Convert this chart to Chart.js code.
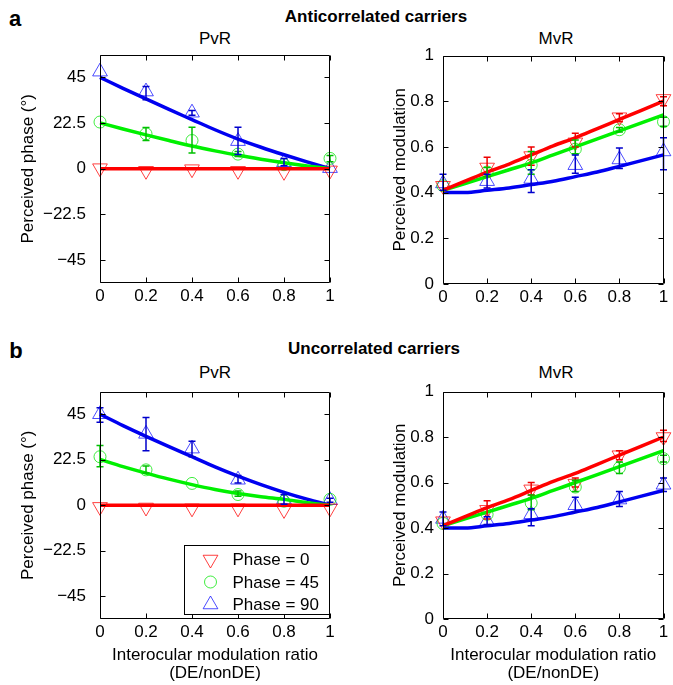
<!DOCTYPE html>
<html>
<head>
<meta charset="utf-8">
<script src="https://cdn.jsdelivr.net/npm/chart.js@4.4.0/dist/chart.umd.min.js"></script>
<style>
    body { margin: 0; background: #fff; }
    #fig { position: relative; width: 673px; height: 685px; overflow: hidden; font-family: 'Liberation Sans', Arial, Helvetica, sans-serif; }
    .panel { position: absolute; }
    .lbl { position: absolute; font-size: 17px; line-height: 1; color: #000; white-space: nowrap; transform: translate(-50%, -50%); }
    .bold { font-weight: bold; }
</style>
</head>
<body>
<div id="fig">
    <div class="lbl bold" style="left:15px;top:19px;font-size:22px">a</div>
    <div class="lbl bold" style="left:376px;top:16px">Anticorrelated carriers</div>
    <div class="lbl" style="left:215px;top:38px">PvR</div>
    <div class="lbl" style="left:556px;top:38px">MvR</div>

    <div class="lbl bold" style="left:16px;top:351px;font-size:22px">b</div>
    <div class="lbl bold" style="left:374px;top:348px">Uncorrelated carriers</div>
    <div class="lbl" style="left:215px;top:372px">PvR</div>
    <div class="lbl" style="left:556px;top:372px">MvR</div>

    <div class="panel" style="left:0;top:45px"><canvas id="aPvr" width="340" height="268"></canvas></div>
    <div class="panel" style="left:340px;top:46px"><canvas id="aMvr" width="333" height="268"></canvas></div>
    <div class="panel" style="left:0;top:382px"><canvas id="bPvr" width="340" height="303"></canvas></div>
    <div class="panel" style="left:340px;top:382px"><canvas id="bMvr" width="333" height="303"></canvas></div>
</div>
<script>
// x values of the measured points and of the fitted curves
const ratio = [0, 0.2, 0.4, 0.6, 0.8, 1]
const fitRatio = [0, 0.1, 0.2, 0.3, 0.4, 0.5, 0.6, 0.7, 0.8, 0.9, 1]

// tick labels
const ratioTicks = [0, 0.2, 0.4, 0.6, 0.8, 1]
const phaseTicks = [-45, -22.5, 0, 22.5, 45]
const modTicks = [0, 0.2, 0.4, 0.6, 0.8, 1]
const seriesNames = ['Phase = 0', 'Phase = 45', 'Phase = 90']

// a: anticorrelated carriers, perceived phase (PvR)
const aPvr0 = [0.3, -1, -0.2, -1, -1.5, -0.8]
const aPvr45 = [23, 17.2, 13.9, 7.2, 2, 5.1]
const aPvr90 = [47.8, 38, 27.6, 13.6, 3.2, 0.3]
const aPvr0Err = [null, null, null, null, null, null]
const aPvr45Err = [null, [13.9, 20.3], [7.7, 20.4], [6, 8.5], null, [3.5, 6.5]]
const aPvr90Err = [null, [34, 40.5], [26.3, 28.7], [7, 20.4], [1.5, 5], null]
const aPvr0Fit = [0, 0, 0, 0, 0, 0, 0, 0, 0, 0, 0]
const aPvr45Fit = [22.6, 19.6, 16.7, 13.9, 11.2, 8.8, 6.6, 4.7, 3.0, 1.4, 0]
const aPvr90Fit = [45, 39.6, 34.4, 29.2, 24.2, 19.2, 14.6, 10.6, 6.9, 3.4, 0]

// a: anticorrelated carriers, perceived modulation (MvR)
const aMvr0 = [0.43, 0.51, 0.56, 0.62, 0.73, 0.81]
const aMvr45 = [0.43, 0.49, 0.52, 0.59, 0.675, 0.71]
const aMvr90 = [0.44, 0.45, 0.46, 0.52, 0.545, 0.58]
const aMvr0Err = [null, [0.47, 0.555], [0.52, 0.6], [0.6, 0.66], [0.71, 0.745], [0.78, 0.82]]
const aMvr45Err = [null, [0.47, 0.51], [0.48, 0.58], [0.57, 0.63], [0.665, 0.685], [0.69, 0.73]]
const aMvr90Err = [[0.41, 0.48], [0.42, 0.48], [0.4, 0.5], [0.485, 0.565], [0.505, 0.595], [0.5, 0.64]]
const aMvr0Fit = [0.41, 0.45, 0.49, 0.525, 0.565, 0.605, 0.64, 0.68, 0.72, 0.76, 0.8]
const aMvr45Fit = [0.41, 0.44, 0.47, 0.5, 0.53, 0.565, 0.6, 0.635, 0.67, 0.705, 0.74]
const aMvr90Fit = [0.4, 0.4, 0.41, 0.42, 0.435, 0.45, 0.47, 0.49, 0.515, 0.54, 0.565]

// b: uncorrelated carriers, perceived phase (PvR)
const bPvr0 = [-0.8, -1.1, -1.5, -1.5, -2.3, -1.5]
const bPvr45 = [24, 17.5, 10.8, 5.3, 2, 2.9]
const bPvr90 = [45, 35.3, 28, 12.6, 2.9, 2.5]
const bPvr0Err = [null, null, null, null, null, null]
const bPvr45Err = [[19.1, 29.6], [15.9, 19.4], null, [4.5, 7], null, null]
const bPvr90Err = [[41, 48.2], [26.9, 43.4], [24, 31.7], [11, 14.7], [0.5, 5.3], [1.5, 3.5]]
const bPvr0Fit = [0, 0, 0, 0, 0, 0, 0, 0, 0, 0, 0]
const bPvr45Fit = [22.7, 19.1, 15.9, 12.9, 10.2, 7.8, 5.8, 4.2, 2.9, 1.3, 0]
const bPvr90Fit = [45, 39.4, 34.1, 29.0, 24.0, 19.0, 14.4, 10.2, 6.4, 3.0, 0]

// b: uncorrelated carriers, perceived modulation (MvR)
const bMvr0 = [0.43, 0.48, 0.57, 0.595, 0.72, 0.8]
const bMvr45 = [0.42, 0.46, 0.51, 0.58, 0.665, 0.705]
const bMvr90 = [0.44, 0.43, 0.46, 0.5, 0.525, 0.59]
const bMvr0Err = [null, [0.44, 0.52], [0.545, 0.6], [0.58, 0.62], [0.7, 0.74], [0.78, 0.83]]
const bMvr45Err = [null, null, [0.48, 0.545], [0.56, 0.61], [0.64, 0.69], [0.69, 0.72]]
const bMvr90Err = [[0.41, 0.47], [0.415, 0.45], [0.41, 0.485], [0.47, 0.535], [0.495, 0.56], [0.56, 0.62]]
const bMvr0Fit = [0.41, 0.45, 0.49, 0.525, 0.565, 0.605, 0.64, 0.68, 0.72, 0.76, 0.8]
const bMvr45Fit = [0.41, 0.44, 0.47, 0.5, 0.53, 0.565, 0.6, 0.635, 0.67, 0.705, 0.74]
const bMvr90Fit = [0.4, 0.4, 0.41, 0.42, 0.435, 0.45, 0.47, 0.49, 0.515, 0.54, 0.565]

const FONT = "'Liberation Sans', Arial, Helvetica, sans-serif"
Chart.defaults.font.family = FONT
Chart.defaults.font.size = 17
Chart.defaults.color = '#000'

// line, marker and error bar colours for phase 0 / 45 / 90
const lineColors = ['#ff0000', '#00f000', '#0000f0']
const markColors = ['rgba(255,0,0,0.75)', 'rgba(0,230,0,0.75)', 'rgba(0,0,255,0.7)']
const errColors = ['#ee0000', '#00c000', '#0000cc']
const markStyles = [
    { style: 'triangle', rot: 180, r: 8.5 },
    { style: 'circle', rot: 0, r: 6 },
    { style: 'triangle', rot: 0, r: 8.5 }
]

function drawMarker(ctx, m, x, y) {
    ctx.beginPath()
    if (m.style == 'circle') {
        ctx.arc(x, y, m.r, 0, Math.PI * 2)
    } else {
        var rad = m.rot * Math.PI / 180
        ctx.moveTo(x + Math.sin(rad) * m.r, y - Math.cos(rad) * m.r)
        for (var k = 0; k < 2; k++) {
            rad += Math.PI * 2 / 3
            ctx.lineTo(x + Math.sin(rad) * m.r, y - Math.cos(rad) * m.r)
        }
        ctx.closePath()
    }
    ctx.stroke()
}

// box with inward ticks on all four sides
const frame = {
    id: 'frame',
    afterDraw(chart) {
        const { ctx, chartArea: a, scales } = chart
        const L = Math.round(a.left) + 0.5, R = Math.round(a.right) - 0.5
        const T = Math.round(a.top) + 0.5, B = Math.round(a.bottom) - 0.5
        ctx.save()
        ctx.strokeStyle = '#000'
        ctx.lineWidth = 1
        ctx.beginPath()
        ctx.rect(L, T, R - L, B - T)
        scales.x.ticks.forEach(t => {
            const px = Math.round(scales.x.getPixelForValue(t.value)) + 0.5
            ctx.moveTo(px, B); ctx.lineTo(px, B - 5)
            ctx.moveTo(px, T); ctx.lineTo(px, T + 5)
        })
        scales.y.ticks.forEach(t => {
            const py = Math.round(scales.y.getPixelForValue(t.value)) + 0.5
            ctx.moveTo(L, py); ctx.lineTo(L + 5, py)
            ctx.moveTo(R, py); ctx.lineTo(R - 5, py)
        })
        ctx.stroke()
        ctx.restore()
    }
}

const errorBars = {
    id: 'errorBars',
    afterDatasetsDraw(chart) {
        const { ctx, scales: { x, y } } = chart
        chart.data.datasets.forEach(ds => {
            if (!ds.errBars) return
            ctx.save()
            ctx.strokeStyle = ds.errColor
            ctx.lineWidth = 1.5
            ctx.beginPath()
            ds.errBars.forEach((e, i) => {
                if (!e) return
                const px = x.getPixelForValue(ratio[i])
                const lo = y.getPixelForValue(e[0]), hi = y.getPixelForValue(e[1])
                ctx.moveTo(px, lo); ctx.lineTo(px, hi)
                ctx.moveTo(px - 3.5, lo); ctx.lineTo(px + 3.5, lo)
                ctx.moveTo(px - 3.5, hi); ctx.lineTo(px + 3.5, hi)
            })
            ctx.stroke()
            ctx.restore()
        })
    }
}

const phaseLegend = {
    id: 'phaseLegend',
    afterDraw(chart) {
        const { ctx, chartArea: a } = chart
        const left = Math.round(a.left) + 84.5, top = Math.round(a.top) + 153.5
        const right = Math.round(a.right) - 0.5, bottom = Math.round(a.bottom) - 4.5
        ctx.save()
        ctx.fillStyle = '#fff'
        ctx.fillRect(left, top, right - left, bottom - top)
        ctx.strokeStyle = '#000'
        ctx.lineWidth = 1
        ctx.strokeRect(left, top, right - left, bottom - top)
        ctx.font = '17px ' + FONT
        ctx.textBaseline = 'middle'
        seriesNames.forEach((name, i) => {
            const cy = top + 14 + i * 22.5
            ctx.strokeStyle = markColors[i]
            drawMarker(ctx, markStyles[i], left + 26, cy)
            ctx.fillStyle = '#000'
            ctx.fillText(name, left + 48, cy + 1)
        })
        ctx.restore()
    }
}

function markerSet(vals, err, i) {
    return {
        data: ratio.map((x, k) => ({ x: x, y: vals[k] })),
        showLine: false,
        pointStyle: markStyles[i].style,
        pointRotation: markStyles[i].rot,
        pointRadius: markStyles[i].r,
        pointBorderWidth: 1,
        pointBorderColor: markColors[i],
        pointBackgroundColor: 'rgba(0,0,0,0)',
        clip: false,
        errBars: err,
        errColor: errColors[i]
    }
}

function fitSet(vals, i) {
    return {
        data: fitRatio.map((x, k) => ({ x: x, y: vals[k] })),
        borderColor: lineColors[i],
        borderWidth: 3.5,
        pointRadius: 0,
        cubicInterpolationMode: 'monotone',
        clip: 2
    }
}

function makePanel(id, p) {
    const phase = p.kind == 'phase'
    const tickList = phase ? phaseTicks : modTicks
    const plugins = [frame, errorBars]
    if (p.legend) plugins.push(phaseLegend)
    return new Chart(document.getElementById(id), {
        type: 'line',
        data: {
            // fits first so they are drawn over the markers
            datasets: [
                fitSet(p.fits[0], 0), fitSet(p.fits[1], 1), fitSet(p.fits[2], 2),
                markerSet(p.marks[0], p.errs[0], 0), markerSet(p.marks[1], p.errs[1], 1), markerSet(p.marks[2], p.errs[2], 2)
            ]
        },
        options: {
            responsive: false,
            animation: false,
            devicePixelRatio: 1,
            layout: { padding: { top: 8, right: p.padRight, left: 0, bottom: 0 } },
            plugins: { legend: { display: false }, tooltip: { enabled: false } },
            scales: {
                x: {
                    type: 'linear',
                    min: 0,
                    max: 1,
                    grid: { display: false, drawTicks: false },
                    border: { display: false },
                    afterBuildTicks: s => { s.ticks = ratioTicks.map(v => ({ value: v })) },
                    afterFit: s => { s.height = p.xHeight; s.paddingLeft = 0; s.paddingRight = 0 },
                    ticks: { padding: 3, maxRotation: 0, autoSkip: false, callback: v => String(+v.toFixed(1)) },
                    title: {
                        display: p.xTitle,
                        text: ['Interocular modulation ratio', '(DE/nonDE)'],
                        font: { size: 17, lineHeight: 1.06 },
                        padding: { top: 0, bottom: 3 }
                    }
                },
                y: {
                    type: 'linear',
                    min: phase ? -56.25 : 0,
                    max: phase ? 56.25 : 1,
                    grid: { display: false, drawTicks: false },
                    border: { display: false },
                    afterBuildTicks: s => { s.ticks = tickList.map(v => ({ value: v })) },
                    afterFit: s => { s.width = p.yWidth; s.paddingTop = 0; s.paddingBottom = 0 },
                    ticks: {
                        padding: p.tickPad,
                        autoSkip: false,
                        callback: v => v < 0 ? '\u2212' + (-v) : String(v)
                    },
                    title: {
                        display: true,
                        text: phase ? 'Perceived phase (\u00b0)' : 'Perceived modulation',
                        font: { size: 17, lineHeight: 1.06 },
                        padding: { top: p.titlePad, bottom: 0 }
                    }
                }
            }
        },
        plugins: plugins
    })
}

makePanel('aPvr', {
    kind: 'phase', yWidth: 100, xHeight: 30, padRight: 10, tickPad: 14, titlePad: 19, xTitle: false,
    marks: [aPvr0, aPvr45, aPvr90], errs: [aPvr0Err, aPvr45Err, aPvr90Err], fits: [aPvr0Fit, aPvr45Fit, aPvr90Fit]
})
makePanel('aMvr', {
    kind: 'mod', yWidth: 103, xHeight: 30, padRight: 3, tickPad: 9, titlePad: 51, xTitle: false,
    marks: [aMvr0, aMvr45, aMvr90], errs: [aMvr0Err, aMvr45Err, aMvr90Err], fits: [aMvr0Fit, aMvr45Fit, aMvr90Fit]
})
makePanel('bPvr', {
    kind: 'phase', yWidth: 100, xHeight: 66, padRight: 10, tickPad: 14, titlePad: 19, xTitle: true, legend: true,
    marks: [bPvr0, bPvr45, bPvr90], errs: [bPvr0Err, bPvr45Err, bPvr90Err], fits: [bPvr0Fit, bPvr45Fit, bPvr90Fit]
})
makePanel('bMvr', {
    kind: 'mod', yWidth: 103, xHeight: 66, padRight: 3, tickPad: 9, titlePad: 51, xTitle: true,
    marks: [bMvr0, bMvr45, bMvr90], errs: [bMvr0Err, bMvr45Err, bMvr90Err], fits: [bMvr0Fit, bMvr45Fit, bMvr90Fit]
})
</script>
</body>
</html>
